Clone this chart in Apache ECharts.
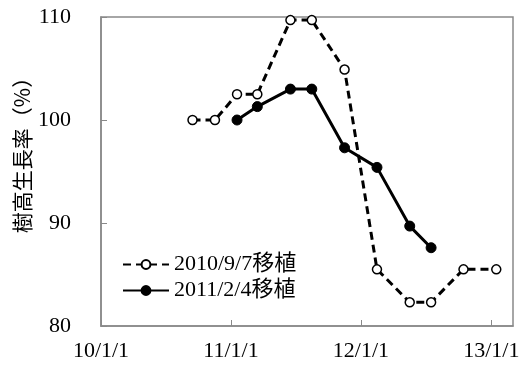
<!DOCTYPE html>
<html>
<head>
<meta charset="utf-8">
<script src="https://cdn.jsdelivr.net/npm/echarts@6/dist/echarts.min.js"></script>
<style>
  html, body { margin: 0; padding: 0; background: #fff; }
  #chart { width: 532px; height: 369px; }
</style>
</head>
<body>
<div id="chart"></div>
<script>
// Height growth rate (%) after transplanting, two planting dates
const seriesNames = ['2010/9/7移植', '2011/2/4移植'];

const dates1 = ['2010-09-15', '2010-11-17', '2011-01-18', '2011-03-16', '2011-06-17', '2011-08-16',
                '2011-11-16', '2012-02-15', '2012-05-17', '2012-07-16', '2012-10-15', '2013-01-15'];
const values1 = [100.0, 100.0, 102.5, 102.5, 109.7, 109.7, 104.9, 85.5, 82.3, 82.3, 85.5, 85.5];

const dates2 = ['2011-01-18', '2011-03-16', '2011-06-17', '2011-08-16', '2011-11-16', '2012-02-15',
                '2012-05-17', '2012-07-16'];
const values2 = [100.0, 101.3, 103.0, 103.0, 97.3, 95.4, 89.7, 87.6];

const xTickDates = ['2010-01-01', '2011-01-01', '2012-01-01', '2013-01-01'];
const xTickLabels = ['10/1/1', '11/1/1', '12/1/1', '13/1/1'];
const xMin = '2010-01-01';
const xMax = '2013-03-03';

const yTitle = '樹高生長率（%）';

// dates are placed on a numeric axis as day counts
const DAY = 86400000;
function toDay(s) {
  const p = s.split('-').map(Number);
  return Math.round(Date.UTC(p[0], p[1] - 1, p[2]) / DAY);
}
const tickDays = xTickDates.map(toDay);

const axisGray = '#898989';
const serifFont = '"Liberation Serif", "Noto Sans CJK JP", serif';

const chart = echarts.init(document.getElementById('chart'), null, { renderer: 'canvas' });

chart.setOption({
  animation: false,
  backgroundColor: '#fff',
  grid: {
    left: 101, top: 17, right: 19, bottom: 43,
    show: true, borderColor: axisGray, borderWidth: 1.5, backgroundColor: 'transparent'
  },
  xAxis: {
    type: 'value',
    min: toDay(xMin),
    max: toDay(xMax),
    axisLine: { show: true, onZero: false, lineStyle: { color: axisGray, width: 1.5 } },
    axisTick: { show: true, inside: true, length: 6, lineStyle: { color: axisGray, width: 1 },
                customValues: tickDays },
    axisLabel: {
      customValues: tickDays,
      margin: 14,
      color: '#000',
      fontFamily: serifFont,
      fontSize: 22,
      formatter: function (v) {
        const i = tickDays.indexOf(v);
        return i >= 0 ? xTickLabels[i] : '';
      }
    },
    splitLine: { show: false }
  },
  yAxis: {
    type: 'value',
    min: 80, max: 110, interval: 10,
    axisLine: { show: true, lineStyle: { color: axisGray, width: 1.5 } },
    axisTick: { show: true, inside: true, length: 6, lineStyle: { color: axisGray, width: 1 } },
    axisLabel: { margin: 30, color: '#000', fontFamily: serifFont, fontSize: 22 },
    splitLine: { show: false }
  },
  legend: {
    orient: 'vertical',
    left: 117, top: 248,
    itemWidth: 46, itemHeight: 11, itemGap: 3,
    textStyle: { color: '#000', fontFamily: serifFont, fontSize: 22, lineHeight: 23 },
    data: seriesNames
  },
  graphic: [{
    type: 'text',
    x: 22, y: 150,
    rotation: Math.PI / 2,
    style: {
      text: yTitle,
      fill: '#000',
      font: '21px "Noto Sans CJK JP", sans-serif',
      align: 'center',
      verticalAlign: 'middle'
    }
  }],
  series: [
    {
      name: seriesNames[0],
      type: 'line',
      data: dates1.map((d, i) => [toDay(d), values1[i]]),
      symbol: 'circle',
      symbolSize: 9,
      lineStyle: { color: '#000', width: 3, type: [8, 5] },
      itemStyle: { color: '#fff', borderColor: '#000', borderWidth: 1.5 },
      z: 3
    },
    {
      name: seriesNames[1],
      type: 'line',
      data: dates2.map((d, i) => [toDay(d), values2[i]]),
      symbol: 'circle',
      symbolSize: 10,
      lineStyle: { color: '#000', width: 3 },
      itemStyle: { color: '#000', borderColor: '#000', borderWidth: 1 },
      z: 4
    }
  ]
});
</script>
</body>
</html>
